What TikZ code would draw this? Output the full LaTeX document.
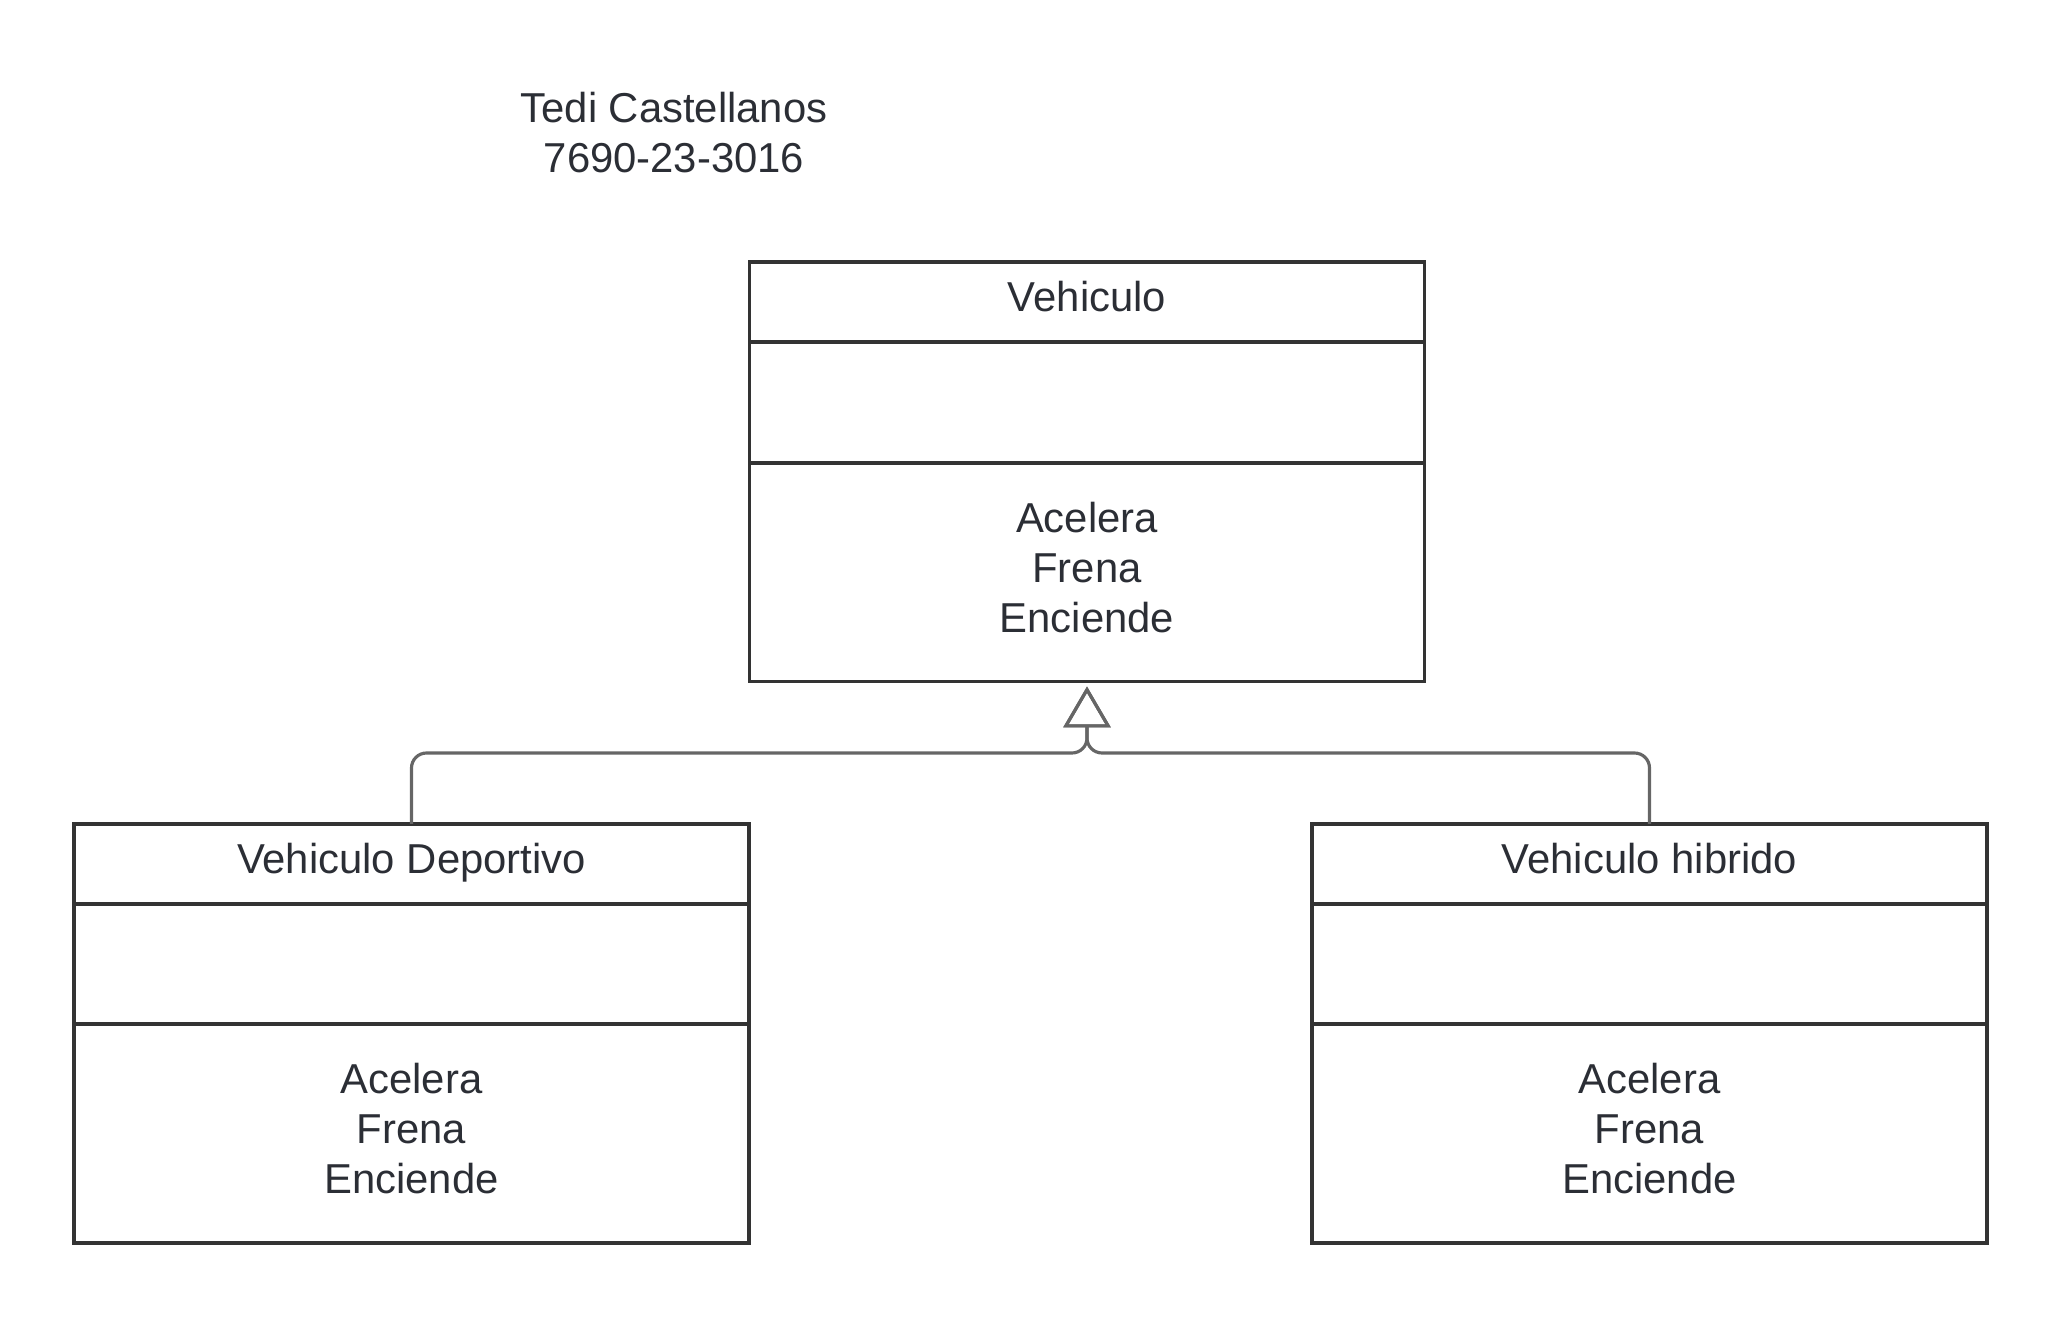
\documentclass[tikz,border=0pt]{standalone}
\usepackage{fontspec}
\setmainfont{Liberation Sans}
\usetikzlibrary{arrows.meta,positioning}
\definecolor{linea}{HTML}{333333}
\definecolor{conector}{HTML}{666666}
\definecolor{texto}{HTML}{2B2E35}

\begin{document}
\begin{tikzpicture}[>=latex, % flechas de herencia abajo
  every node/.style={text=texto,font=\fontsize{11.9}{14.2}\selectfont},
  clase/.style={draw=linea,line width=0.9pt,minimum width=6.75cm,outer sep=0pt,inner sep=0pt,align=center},
  cabecera/.style={clase,minimum height=0.8cm,text height=0.3cm,text depth=0.11cm},
  metodos/.style={clase,text depth=0.1cm},
  herencia/.style={draw=conector,line width=0.9pt,rounded corners=0.15cm,-{Triangle[open,length=0.41cm,width=0.47cm]},shorten >=0.05cm}]

  \useasboundingbox (0,0) rectangle (20.63,-13.20);

  \node[align=center](autor) at (6.74,-1.33) {Tedi Castellanos\\7690-23-3016};

  \node[cabecera,anchor=north](veh) at (10.87,-2.62) {Vehiculo};
  \node[clase,minimum height=1.21cm,below=0pt of veh](vehatr) {};
  \node[metodos,minimum height=2.185cm,below=0pt of vehatr](vehmet) {Acelera\\Frena\\Enciende};

  \node[cabecera,anchor=north](dep) at (4.115,-8.24) {Vehiculo Deportivo};
  \node[clase,minimum height=1.2cm,below=0pt of dep](depatr) {};
  \node[metodos,minimum height=2.19cm,below=0pt of depatr](depmet) {Acelera\\Frena\\Enciende};

  \node[cabecera,anchor=north](hib) at (16.495,-8.24) {Vehiculo hibrido};
  \node[clase,minimum height=1.2cm,below=0pt of hib](hibatr) {};
  \node[metodos,minimum height=2.19cm,below=0pt of hibatr](hibmet) {Acelera\\Frena\\Enciende};

  \coordinate (union) at (10.87,-7.53);

  \draw[herencia] (dep.north) |- (union) -- (vehmet.south);
  \draw[herencia] (hib.north) |- (union) -- (vehmet.south);

\end{tikzpicture}
\end{document}
